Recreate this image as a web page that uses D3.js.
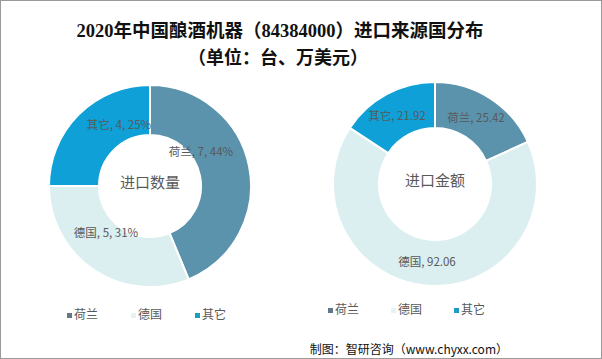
<!DOCTYPE html>
<html><head><meta charset="utf-8">
<script src="https://cdn.jsdelivr.net/npm/d3@7"></script>
<style>
html,body{margin:0;padding:0;background:#fff;}
svg{display:block;}
</style></head>
<body>
<svg id="c" width="602" height="359"></svg>
<script>
const categories = ["荷兰", "德国", "其它"];
const quantityValues = [7, 5, 4];
const quantityPercents = ["44%", "31%", "25%"];
const amountValues = [25.42, 92.06, 21.92];
const titleLines = ["2020年中国酿酒机器（84384000）进口来源国分布", "（单位：台、万美元）"];
const centerLabels = ["进口数量", "进口金额"];
const sourceText = "制图：智研咨询（www.chyxx.com）";

const colors = d3.scaleOrdinal().domain(categories).range(["#5b93ad", "#dbeef0", "#0ea0d6"]);
const legendColors = d3.scaleOrdinal().domain(categories).range(["#61788a", "#e6f3f5", "#1d9cc4"]);

const svg = d3.select("#c");
svg.append("rect").attr("x",0.5).attr("y",0.5).attr("width",601).attr("height",358)
  .attr("fill","#fff").attr("stroke","#9a9a9a").attr("stroke-width",1);

const fontCJK = "'Noto Sans CJK SC','Microsoft YaHei',sans-serif";
const fontTitle = "'Liberation Serif','Noto Sans CJK SC',serif";

svg.append("text").attr("x",280).attr("y",37).attr("text-anchor","middle")
  .attr("font-family",fontTitle).attr("font-weight","bold")
  .attr("font-size",18.5).attr("fill","#111").text(titleLines[0]);
svg.append("text").attr("x",278).attr("y",64).attr("text-anchor","middle")
  .attr("font-family",fontTitle).attr("font-weight","bold")
  .attr("font-size",18).attr("fill","#111").text(titleLines[1]);

function donut(cx, cy, rOuter, rInner, values, labelFn, labelPos, center) {
  const g = svg.append("g").attr("transform", `translate(${cx},${cy})`);
  const pie = d3.pie().sort(null).value(d => d.v);
  const data = pie(categories.map((c,i)=>({c, v: values[i], i})));
  const arc = d3.arc().innerRadius(rInner).outerRadius(rOuter);
  g.selectAll("path").data(data).enter().append("path")
    .attr("d", arc).attr("fill", d => colors(d.data.c))
    .attr("stroke", "#fff").attr("stroke-width", 2);
  g.selectAll("text.lbl").data(data).enter().append("text").attr("class","lbl")
    .attr("x", (d,i) => labelPos[i][0]).attr("y", (d,i) => labelPos[i][1])
    .attr("text-anchor","middle").attr("dominant-baseline","middle")
    .attr("font-family", fontCJK).attr("font-size", 11.5).attr("fill", "#595959")
    .text(d => labelFn(d.data));
  g.append("text").attr("x",0).attr("y",-2).attr("text-anchor","middle").attr("dominant-baseline","middle")
    .attr("font-family", fontCJK).attr("font-size", 15).attr("fill","#595959").text(center);
}

donut(150, 186, 101, 51, quantityValues,
  d => `${d.c}, ${d.v}, ${quantityPercents[d.i]}`,
  [[51, -33], [-44, 48], [-31, -60]], centerLabels[0]);
donut(435, 184, 102, 56, amountValues,
  d => `${d.c}, ${d.v.toFixed(2)}`,
  [[41, -65], [-8, 79], [-38, -67]], centerLabels[1]);

function legend(x0, y, gaps) {
  categories.forEach((c,i) => {
    const x = x0 + gaps[i];
    svg.append("rect").attr("x", x).attr("y", y-3).attr("width",5).attr("height",5).attr("fill", legendColors(c));
    svg.append("text").attr("x", x+7).attr("y", y).attr("dominant-baseline","middle")
      .attr("font-family", fontCJK).attr("font-size", 12).attr("fill","#595959").text(c);
  });
}
legend(67, 316, [0, 64, 128]);
legend(328, 311, [0, 63, 126]);

svg.append("text").attr("x", 508).attr("y", 351).attr("text-anchor","end").attr("dominant-baseline","middle")
  .attr("font-family", fontCJK).attr("font-size", 12).attr("fill","#111").text(sourceText);
</script>
</body></html>
